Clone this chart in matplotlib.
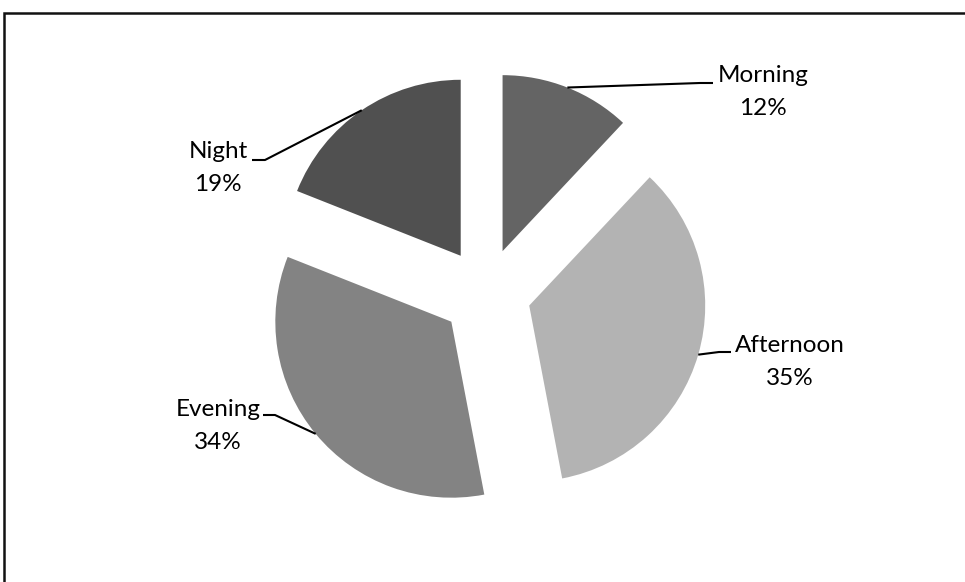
import matplotlib
matplotlib.use("Agg")
import matplotlib.pyplot as plt
from matplotlib.lines import Line2D
import numpy as np

periods = ["Morning", "Afternoon", "Evening", "Night"]
shares = [12, 35, 34, 19]
colors = ["#646464", "#b3b3b3", "#838383", "#505050"]

# label text centres (pixels from top-left)
label_xy = [(763, 92), (790, 362), (218, 426), (218, 168)]
# elbow of each leader line, and where it meets the text
elbow_xy = [(700, 83), (719, 352), (275, 415), (265, 160)]
end_xy = [(713, 83), (731, 352), (263, 415), (252, 160)]

W, H = 965, 582
plt.rcParams["font.family"] = ["Lato", "DejaVu Sans"]

fig = plt.figure(figsize=(W / 100, H / 100), dpi=100)
ax = fig.add_axes([0, 0, 1, 1])

R = 176
wedges, _ = ax.pie(shares, colors=colors, startangle=90, counterclock=False,
                   explode=[45] * 4, radius=R, center=(486, H - 293),
                   wedgeprops=dict(linewidth=0))
ax.set_xlim(0, W)
ax.set_ylim(0, H)
ax.axis("off")

# chart border: only the top and left sides fall inside the image
fig.add_artist(Line2D([4 / W, 4 / W, 1.0], [0.0, 1 - 13 / H, 1 - 13 / H],
                      transform=fig.transFigure, color="#111111", lw=1.8,
                      solid_joinstyle="miter"))

for w, name, val, (lx, ly), (ex, ey), (tx, ty) in zip(
        wedges, periods, shares, label_xy, elbow_xy, end_xy):
    mid = np.deg2rad((w.theta1 + w.theta2) / 2)
    cx, cy = w.center
    px = cx + R * np.cos(mid)
    py = cy + R * np.sin(mid)
    ax.plot([px, ex, tx], [py, H - ey, H - ty], color="black", lw=1.5,
            solid_capstyle="butt")
    ax.text(lx, H - ly, f"{name}\n{val}%", ha="center", va="center",
            fontsize=17.5, linespacing=1.7, color="black")

fig.savefig("out.png", dpi=100)
